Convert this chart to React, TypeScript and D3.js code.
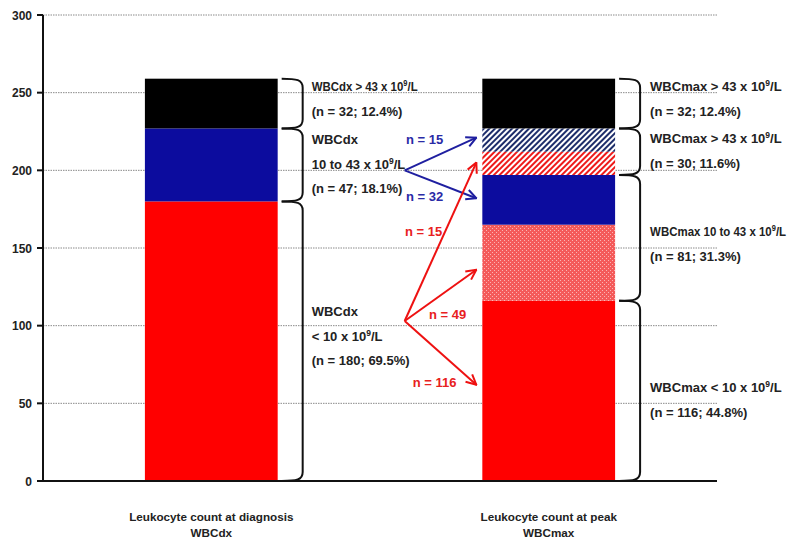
import React from "react";
import * as d3 from "d3";

// ---------- data ----------
const yTicks = [0, 50, 100, 150, 200, 250, 300];
const categories = ["Leukocyte count at diagnosis", "Leukocyte count at peak"];
const categorySub = ["WBCdx", "WBCmax"];

const dxSegmentValues = [180, 47, 32];
const dxSegmentKinds = ["red", "blue", "black"];
const maxSegmentValues = [116, 49, 32, 15, 15, 32];
const maxSegmentKinds = ["red", "redDots", "blue", "redHatch", "blueHatch", "black"];

const dxGroupCounts = [180, 47, 32];
const maxGroupCounts = [116, 81, 30, 32];

const dxLabels = [
  ["WBCdx", "< 10 x 10^9/L", "(n = 180; 69.5%)"],
  ["WBCdx", "10 to 43 x 10^9/L", "(n = 47; 18.1%)"],
  ["WBCdx > 43 x 10^9/L", "(n = 32; 12.4%)"],
];
const maxLabels = [
  ["WBCmax < 10 x 10^9/L", "(n = 116; 44.8%)"],
  ["WBCmax 10 to 43 x 10^9/L", "(n = 81; 31.3%)"],
  ["WBCmax > 43 x 10^9/L", "(n = 30; 11.6%)"],
  ["WBCmax > 43 x 10^9/L", "(n = 32; 12.4%)"],
];

const flowFrom = ["blue", "blue", "red", "red", "red"];
const flowN = [15, 32, 15, 49, 116];
const flowOriginValue: Record<string, number> = { blue: 200, red: 103 };
const flowTargetValue = [221, 182, 205, 136, 62];

// ---------- layout / style ----------
const W = 810;
const H = 539;
const plotLeft = 43;
const plotRight = 717;
const plotTop = 15;
const plotBottom = 481;

const fills: Record<string, string> = {
  red: "#ff0000",
  blue: "#0c0c9e",
  black: "#000000",
  redDots: "url(#redDots)",
  redHatch: "url(#redHatch)",
  blueHatch: "url(#blueHatch)",
};
const flowColor: Record<string, string> = { blue: "#1f1fa0", red: "#ee1111" };
const flowTextColor: Record<string, string> = { blue: "#2a2aa6", red: "#e82020" };
const flowLabelOffset = [
  [20, -31],
  [20, 26],
  [19, -90],
  [43, -7],
  [30, 61],
];
const dxFirstLineOffset = [-29.5, -25, -17];
const maxFirstLineOffset = [-3, -6, -13, -17];
const compress: Record<string, number> = {
  "WBCdx > 43 x 10^9/L": 106,
  "WBCmax 10 to 43 x 10^9/L": 136,
};
const FONT = "Liberation Sans, Arial, sans-serif";

let measureCtx: CanvasRenderingContext2D | null = null;
function measure(s: string, size: number) {
  if (!measureCtx && typeof document !== "undefined") {
    measureCtx = document.createElement("canvas").getContext("2d");
  }
  if (!measureCtx) return s.length * size * 0.6;
  measureCtx.font = `bold ${size}px "Liberation Sans", Arial, sans-serif`;
  return measureCtx.measureText(s).width;
}

function cumulative(vals: number[]) {
  let acc = 0;
  return vals.map((v) => {
    const s = acc;
    acc += v;
    return [s, acc];
  });
}

function LabelLine({ x, y, text }: { x: number; y: number; text: string }) {
  const parts = text.split("^9");
  const common = { fontFamily: FONT, fontWeight: "bold", fill: "#222" } as const;
  if (parts.length === 1) {
    const w = measure(text, 13);
    const k = compress[text] ? Math.min(1, compress[text] / w) : 1;
    return (
      <g transform={`translate(${x},${y}) scale(${k},1)`}>
        <text x={0} y={0} fontSize={13} {...common}>{text}</text>
      </g>
    );
  }
  const w0 = measure(parts[0], 13);
  const ws = measure("9", 8.5);
  const w1 = measure(parts[1], 13);
  const total = w0 + ws + w1;
  const k = compress[text] ? Math.min(1, compress[text] / total) : 1;
  return (
    <g transform={`translate(${x},${y}) scale(${k},1)`}>
      <text x={0} y={0} fontSize={13} {...common}>{parts[0]}</text>
      <text x={w0} y={-5} fontSize={8.5} {...common}>9</text>
      <text x={w0 + ws} y={0} fontSize={13} {...common}>{parts[1]}</text>
    </g>
  );
}

export default function App() {
  const y = d3.scaleLinear().domain([0, 300]).range([plotBottom, plotTop]);
  const x = d3
    .scaleBand<string>()
    .domain(categories)
    .range([plotLeft, plotRight])
    .paddingInner(0.6065)
    .paddingOuter(0.302);
  const bw = x.bandwidth();
  const xDx = x(categories[0])!;
  const xMax = x(categories[1])!;

  const dxStack = cumulative(dxSegmentValues);
  const maxStack = cumulative(maxSegmentValues);
  const dxGroups = cumulative(dxGroupCounts);
  const maxGroups = cumulative(maxGroupCounts);

  const bracePath = (barRight: number, v0: number, v1: number) => {
    const x0 = barRight + 4;
    const x1 = barRight + 25;
    const yt = y(v1);
    const yb = y(v0);
    return `M${x0},${yt} C${x1 - 6},${yt} ${x1},${yt + 1} ${x1},${yt + 9} L${x1},${yb - 9} C${x1},${yb - 1} ${x1 - 6},${yb} ${x0},${yb}`;
  };

  const lineH = 24.5;
  const arrowOriginX = xDx + bw + 127;
  const arrowEndX = xMax - 6;

  return (
    <svg
      width={W}
      height={H}
      style={{ position: "absolute", left: 0, top: 0, background: "#fff" }}
    >
      <defs>
        <pattern id="redDots" width={4} height={4} patternUnits="userSpaceOnUse">
          <rect width={4} height={4} fill="#f45a5a" shapeRendering="crispEdges" />
          <rect x={0} y={0} width={1} height={1} fill="#fbb4b4" shapeRendering="crispEdges" />
          <rect x={2} y={2} width={1} height={1} fill="#fbb4b4" shapeRendering="crispEdges" />
        </pattern>
        <pattern id="redHatch" width={4} height={4} patternUnits="userSpaceOnUse" patternTransform="rotate(45)">
          <rect width={4} height={4} fill="#fff" />
          <rect width={2} height={4} fill="#ee1a1a" />
        </pattern>
        <pattern id="blueHatch" width={4} height={4} patternUnits="userSpaceOnUse" patternTransform="rotate(45)">
          <rect width={4} height={4} fill="#fff" />
          <rect width={2} height={4} fill="#1d2d6a" />
        </pattern>
        {Object.keys(flowColor).map((k) => (
          <marker
            key={k}
            id={`arrow-${k}`}
            viewBox="0 0 12 12"
            refX={11}
            refY={6}
            markerWidth={12}
            markerHeight={12}
            markerUnits="userSpaceOnUse"
            orient="auto"
          >
            <path d="M1,1 L11,6 L1,11" fill="none" stroke={flowColor[k]} strokeWidth={2} />
          </marker>
        ))}
      </defs>

      {/* gridlines */}
      {yTicks
        .filter((t) => t > 0)
        .map((t) => (
          <line
            key={t}
            x1={plotLeft}
            x2={plotRight}
            y1={y(t)}
            y2={y(t)}
            stroke="#8a8a8a"
            strokeWidth={1}
            strokeDasharray="1.5,1"
          />
        ))}

      {/* bars */}
      {dxStack.map(([a, b], i) => (
        <rect key={`dx${i}`} x={xDx} width={bw} y={y(b)} height={y(a) - y(b)} fill={fills[dxSegmentKinds[i]]} />
      ))}
      {maxStack.map(([a, b], i) => (
        <rect key={`mx${i}`} x={xMax} width={bw} y={y(b)} height={y(a) - y(b)} fill={fills[maxSegmentKinds[i]]} />
      ))}

      {/* braces */}
      {dxGroups.map(([a, b], i) => (
        <path key={`bd${i}`} d={bracePath(xDx + bw, a, b)} fill="none" stroke="#111" strokeWidth={2} />
      ))}
      {maxGroups.map(([a, b], i) => (
        <path key={`bm${i}`} d={bracePath(xMax + bw, a, b)} fill="none" stroke="#111" strokeWidth={2} />
      ))}

      {/* brace labels */}
      {dxGroups.map(([a, b], i) => {
        const mid = y((a + b) / 2);
        return dxLabels[i].map((t, j) => (
          <LabelLine key={`ld${i}-${j}`} x={xDx + bw + 34} y={mid + dxFirstLineOffset[i] + j * lineH + 4.5} text={t} />
        ));
      })}
      {maxGroups.map(([a, b], i) => {
        const mid = y((a + b) / 2);
        return maxLabels[i].map((t, j) => (
          <LabelLine key={`lm${i}-${j}`} x={xMax + bw + 35} y={mid + maxFirstLineOffset[i] + j * lineH + 4.5} text={t} />
        ));
      })}

      {/* flow arrows */}
      {flowN.map((n, i) => {
        const k = flowFrom[i];
        const ox = arrowOriginX;
        const oy = y(flowOriginValue[k]);
        const ty = y(flowTargetValue[i]);
        return (
          <g key={`f${i}`}>
            <line
              x1={ox}
              y1={oy}
              x2={arrowEndX}
              y2={ty}
              stroke={flowColor[k]}
              strokeWidth={2}
              markerEnd={`url(#arrow-${k})`}
            />
            <text
              x={ox + flowLabelOffset[i][0]}
              y={oy + flowLabelOffset[i][1] + 5}
              textAnchor="middle"
              fontFamily={FONT}
              fontWeight="bold"
              fontSize={13}
              fill={flowTextColor[k]}
            >
              {`n = ${n}`}
            </text>
          </g>
        );
      })}

      {/* axes */}
      <line x1={plotLeft} x2={plotLeft} y1={plotTop} y2={plotBottom} stroke="#111" strokeWidth={2} />
      <line x1={plotLeft - 6} x2={plotRight} y1={plotBottom} y2={plotBottom} stroke="#111" strokeWidth={2} />
      {yTicks.map((t) => (
        <g key={`t${t}`}>
          <line x1={plotLeft - 6} x2={plotLeft} y1={y(t)} y2={y(t)} stroke="#111" strokeWidth={2} />
          <text
            x={plotLeft - 11}
            y={y(t) + 4.5}
            textAnchor="end"
            fontFamily={FONT}
            fontWeight="bold"
            fontSize={12}
            fill="#222"
          >
            {t}
          </text>
        </g>
      ))}

      {/* category labels */}
      {categories.map((c, i) => {
        const cx = x(c)! + bw / 2;
        return (
          <text key={c} textAnchor="middle" fontFamily={FONT} fontWeight="bold" fontSize={11.7} fill="#222">
            <tspan x={cx} y={521}>{c}</tspan>
            <tspan x={cx} y={537}>{categorySub[i]}</tspan>
          </text>
        );
      })}
    </svg>
  );
}
